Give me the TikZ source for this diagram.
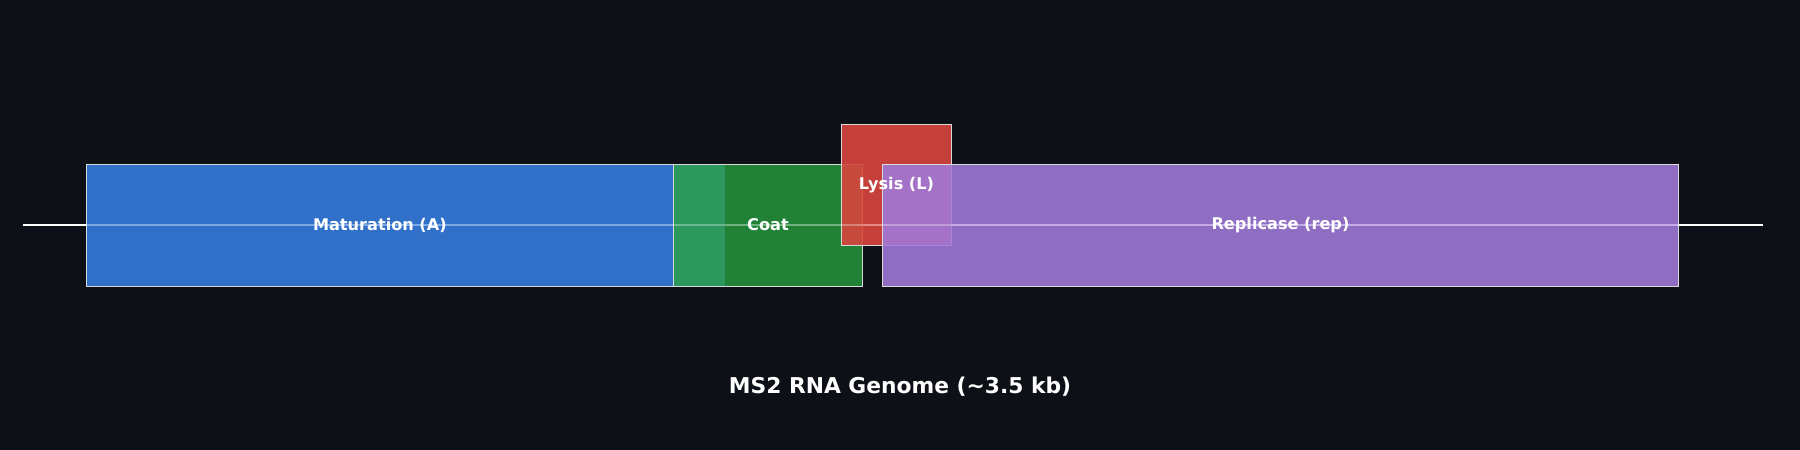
\documentclass[tikz,border=0pt]{standalone}
\usepackage{fontspec}
\setmainfont{DejaVu Sans}
\usetikzlibrary{positioning}
\definecolor{bgc}{HTML}{0D1017}
\definecolor{matc}{HTML}{3478D6}
\definecolor{coatc}{HTML}{238A3A}
\definecolor{coatl}{HTML}{2E9A62}
\definecolor{lysc}{HTML}{DA463E}
\definecolor{repc}{HTML}{A07ADA}
\tikzset{
    every node/.style={font=\bfseries\fontsize{20}{24}\selectfont, text=white},
    gene/.style={draw=white!85!black, line width=1.2pt, fill opacity=0.93, inner sep=0pt}
}
\begin{document}
\begin{tikzpicture}[x=0.05cm, y=-0.05cm]
        % background and frame
        \fill[bgc] (0,0) rectangle (1568,392);
        \useasboundingbox (0,0) rectangle (1568,392);

        % genome line
        \coordinate (g5) at (20,196);
        \coordinate (g3) at (1536,196);
        \draw[white, line width=3pt] (g5) -- (g3);

        % genes
        \node[gene, fill=matc, minimum width=511*0.05cm, minimum height=106*0.05cm, anchor=north west] (mat) at (75,143) {};
        \node[gene, fill=coatc, minimum width=165*0.05cm, minimum height=106*0.05cm, anchor=north west] (coat) at (586,143) {};
        \node[gene, draw=none, fill=coatl, minimum width=45*0.05cm, minimum height=105*0.05cm, anchor=north west] (ovl) at (586.5,143.5) {};
        \node[gene, fill=lysc, fill opacity=0.9, minimum width=95*0.05cm, minimum height=105*0.05cm, anchor=north west] (lys) at (733,108) {};
        \node[gene, fill=repc, fill opacity=0.88, minimum width=694*0.05cm, minimum height=106*0.05cm, anchor=north west] (rep) at (768,143) {};
        \draw[white, opacity=0.3, line width=3pt] (g5) -- (g3);

        % labels
        \node at (mat.center) {Maturation (A)};
        \node at (669,196) {Coat};
        \node at (lys.center) {Lysis (L)};
        \node at (rep.center) {Replicase (rep)};
        \node[font=\bfseries\fontsize{27}{32}\selectfont] (title) at (784,337) {MS2 RNA Genome (\textasciitilde3.5 kb)};
\end{tikzpicture}
\end{document}
